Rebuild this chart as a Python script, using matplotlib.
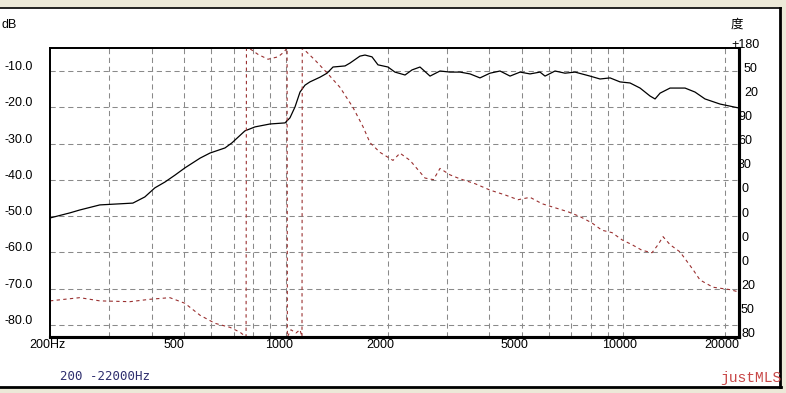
import matplotlib
matplotlib.use('Agg')
import matplotlib.pyplot as plt
from matplotlib.lines import Line2D
from matplotlib.patches import Rectangle
from matplotlib.transforms import blended_transform_factory, offset_copy

# magnitude response (Hz, dB)
mag_freq = [200, 229, 245, 281, 322, 352, 382, 409, 438, 469, 502, 557, 596, 660,
            692, 756, 810, 897, 994, 1028, 1064, 1101, 1139, 1178, 1262, 1324, 1379,
            1497, 1549, 1657, 1715, 1799, 1874, 2006, 2104, 2254, 2364, 2496, 2673,
            2861, 3063, 3280, 3512, 3758, 4024, 4309, 4614, 4940, 5288, 5661, 5858,
            6271, 6713, 7188, 7962, 8525, 9127, 9771, 10463, 11202, 11993, 12409,
            12840, 13745, 15225, 16295, 17446, 19320, 22000]
mag_db = [-50.5, -49.1, -48.3, -46.9, -46.6, -46.4, -44.7, -42.2, -40.6, -38.7, -36.7,
          -34.0, -32.6, -31.2, -29.8, -26.5, -25.4, -24.6, -24.3, -22.9, -19.9, -15.8,
          -13.9, -13.0, -11.7, -10.6, -8.9, -8.6, -7.8, -5.9, -5.6, -6.1, -8.3, -8.9,
          -10.3, -11.1, -9.7, -8.9, -11.4, -10.0, -10.3, -10.3, -10.8, -11.9, -10.6,
          -10.0, -11.4, -10.3, -10.8, -10.3, -11.4, -10.0, -10.6, -10.3, -11.4, -12.2,
          -11.9, -13.0, -13.3, -14.7, -16.9, -17.7, -16.1, -14.7, -14.7, -15.8, -17.7,
          -19.1, -20.2]

# phase (Hz, degrees), wrapped to +-180 like the analyser does
phase_freq = [200, 245, 281, 345, 396, 453, 502, 557, 617, 683, 731, 762, 764, 783,
              827, 885, 948, 987, 1008, 1010, 1035, 1071, 1101, 1116, 1118, 1139, 1219,
              1324, 1446, 1580, 1692, 1775, 1900, 2076, 2178, 2332, 2583, 2736, 2861,
              3063, 3280, 3633, 4024, 4458, 4872, 5288, 5740, 6271, 6850, 7436, 8072,
              8637, 9252, 9907, 10606, 11353, 12155, 12663, 13104, 13745, 14710, 16072,
              16863, 18425, 20690, 22000]
phase_deg = [-135, -131, -135, -136, -133, -131, -138, -153, -163, -168, -174, -180,
             180, 179, 172, 166, 169, 175, 180, -180, -171, -175, -171, -180, 180, 177,
             165, 149, 131, 106, 82, 62, 50, 40, 49, 40, 18, 16, 30, 22, 17, 11, 3, -3,
             -9, -6, -14, -19, -24, -30, -38, -47, -50, -59, -65, -72, -75, -65, -55,
             -65, -74, -96, -109, -118, -121, -124]

grid_freqs = [300, 400, 500, 600, 700, 800, 900, 1000, 2000, 3000, 4000, 5000, 6000,
              7000, 8000, 9000, 10000, 20000]
freq_ticks = [200, 500, 1000, 2000, 5000, 10000, 20000]
freq_labels = ['200Hz', '500', '1000', '2000', '5000', '10000', '20000']
db_ticks = [-10, -20, -30, -40, -50, -60, -70, -80]
db_labels = ['-10.0', '-20.0', '-30.0', '-40.0', '-50.0', '-60.0', '-70.0', '-80.0']
phase_ticks = [180, 150, 120, 90, 60, 30, 0, -30, -60, -90, -120, -150, -180]
phase_labels = ['+180', '50', '20', '90', '60', '30', '0', '0', '0', '0', '20', '50', '80']
phase_label_x = [731, 744, 744, 738, 738, 738, 742, 742, 742, 742, 741, 741, 741]

plt.rcParams['font.family'] = ['Liberation Sans', 'Noto Sans CJK SC']

W, H = 786, 393
fig = plt.figure(figsize=(W / 100, H / 100), dpi=100, facecolor='#ECE9D8')

# white window panel with its dark edges
fig.add_artist(Rectangle((0, 1 - 387 / H), 780 / W, 379 / H, transform=fig.transFigure,
                         facecolor='white', edgecolor='none', zorder=-5))
fig.add_artist(Line2D([0, 781 / W], [1 - 8 / H] * 2, color='#222222', lw=1.4))
fig.add_artist(Line2D([780 / W] * 2, [1 - 8 / H, 1 - 387 / H], color='black', lw=2.0))
fig.add_artist(Line2D([0, 781 / W], [1 - 387 / H] * 2, color='black', lw=2.0))

ax = fig.add_axes([50 / W, 1 - 337 / H, 689 / W, 289 / H])
ax.set_xscale('log')
ax.set_xlim(200, 22000)
ax.set_ylim(-83.3, -3.66)
ax.tick_params(which='both', length=0, labelbottom=False, labelleft=False)

for f in grid_freqs:
    ax.axvline(f, color='#8a8a8a', lw=0.75, ls=(0, (5, 3.5)), zorder=1)
for d in db_ticks:
    ax.axhline(d, color='#8a8a8a', lw=0.75, ls=(0, (5, 3.5)), zorder=1)

ax.plot(mag_freq, mag_db, color='black', lw=0.9, zorder=3)

ax2 = ax.twinx()
ax2.set_ylim(-180, 180)
ax2.tick_params(which='both', length=0, labelright=False, labelbottom=False)
ax2.plot(phase_freq, phase_deg, color='#9a3030', lw=0.8, ls=(0, (3, 3)), zorder=1)

for a in (ax, ax2):
    a.spines['left'].set_linewidth(1.3)
    a.spines['top'].set_linewidth(1.3)
    a.spines['right'].set_linewidth(2.2)
    a.spines['bottom'].set_linewidth(2.2)

# left dB labels
tr = offset_copy(blended_transform_factory(fig.transFigure, ax.transData), fig=fig,
                 y=1, units='dots')
for d, lbl in zip(db_ticks, db_labels):
    ax.text(33 / W, d, lbl, transform=tr, ha='right', va='baseline', fontsize=9,
            clip_on=False)

# frequency labels sit left of their grid line
tr = offset_copy(blended_transform_factory(ax.transData, fig.transFigure), fig=fig,
                 x=-21, units='dots')
for f, lbl in zip(freq_ticks, freq_labels):
    ax.text(f, 1 - 348 / H, lbl, transform=tr, ha='left', va='baseline', fontsize=9,
            clip_on=False)

# phase labels, partly hidden under the right frame line
tr = blended_transform_factory(fig.transFigure, ax2.transData)
for p, lbl, xp in zip(phase_ticks, phase_labels, phase_label_x):
    ax2.text(xp / W, p, lbl, transform=tr, ha='left', va='baseline', fontsize=9,
             clip_on=False, zorder=2)

fig.text(2 / W, 1 - 28 / H, 'dB', fontsize=9, va='baseline')
fig.text(731 / W, 1 - 28 / H, '度', fontsize=9, va='baseline')
fig.text(60 / W, 1 - 380 / H, '200 -22000Hz', fontsize=9, va='baseline',
         family='DejaVu Sans Mono', color='#2e2e6e')
fig.text(720 / W, 1 - 382 / H, 'justMLS', fontsize=10.5, va='baseline',
         family='Liberation Mono', color='#c84848')

fig.savefig('out.png', dpi=100, facecolor=fig.get_facecolor())
